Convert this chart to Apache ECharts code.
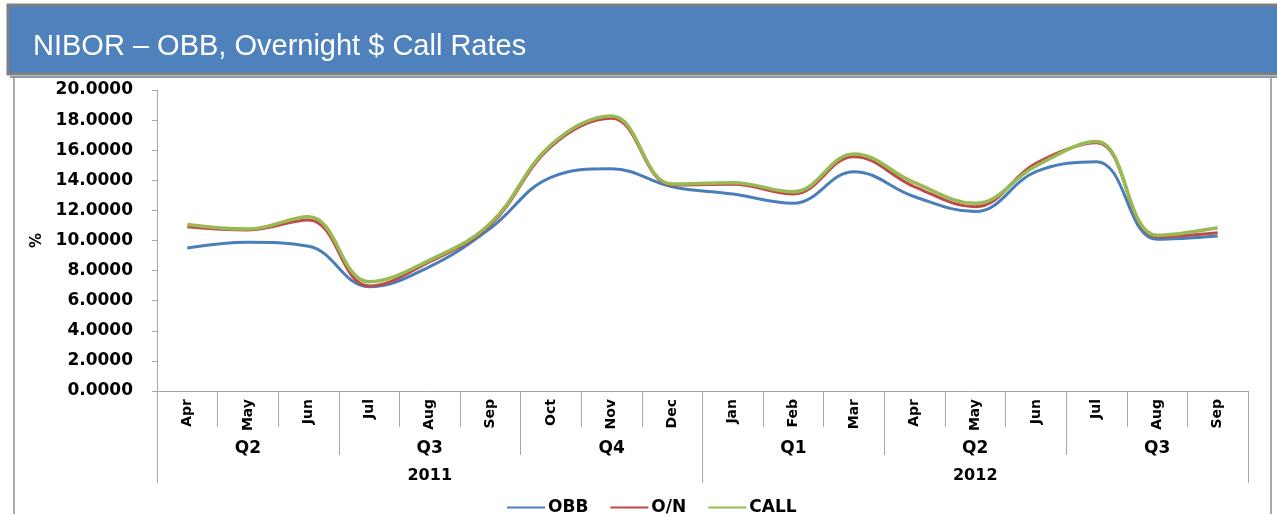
<!DOCTYPE html>
<html>
<head>
<meta charset="utf-8">
<script src="https://cdn.jsdelivr.net/npm/echarts@6/dist/echarts.min.js"></script>
<style>
	html, body { margin: 0; padding: 0; background: #fff; }
	#chart { width: 1277px; height: 514px; }
</style>
</head>
<body>
<div id="chart"></div>
<script>
(function(){
	'use strict';

	// 数据
	var months   = ['Apr','May','Jun','Jul','Aug','Sep','Oct','Nov','Dec','Jan','Feb','Mar','Apr','May','Jun','Jul','Aug','Sep'];
	var quarters = ['Q2','Q3','Q4','Q1','Q2','Q3'];
	var years    = ['2011','2012'];
	var yTicks   = [0, 20, 2];   // min, max, interval

	var obb       = [9.50, 9.88, 9.62, 6.93, 8.26, 10.81, 14.20, 14.77, 13.57, 13.09, 12.47, 14.57, 12.91, 11.92, 14.57, 15.24, 10.08, 10.30];
	var overnight = [10.92, 10.70, 11.36, 6.98, 8.59, 11.03, 16.23, 18.12, 13.69, 13.73, 13.09, 15.57, 13.57, 12.25, 15.13, 16.50, 10.25, 10.52];
	var call      = [11.07, 10.76, 11.58, 7.26, 8.70, 11.14, 16.35, 18.27, 13.75, 13.84, 13.24, 15.75, 13.84, 12.47, 14.95, 16.57, 10.35, 10.85];

	var axisGray = '#a6a6a6',
		boldFont = 'DejaVu Sans',
		myChart = echarts.init(document.getElementById('chart'));

	var option = {
		color: ['#4a7ebb', '#be4b48', '#98b954'],
		animation: false,
		title: {
			text: 'NIBOR – OBB, Overnight $ Call Rates',
			left: 28,
			top: 27,
			textStyle: {
				color: '#fff',
				fontFamily: 'Liberation Sans',
				fontWeight: 'normal',
				fontSize: 29
			}
		},
		graphic: [
			{ type: 'rect', z: -10, shape: { x: 8, y: 5, width: 1275, height: 69 },
			  style: { fill: '#4f81bd', stroke: '#7f7f7f', lineWidth: 3 } },
			{ type: 'line', z: -10, shape: { x1: 10, y1: 77, x2: 1277, y2: 77 },
			  style: { stroke: '#8d99a6', lineWidth: 2 } },
			{ type: 'line', z: -10, shape: { x1: 14, y1: 78, x2: 14, y2: 514 },
			  style: { stroke: '#8c8c8c', lineWidth: 1.5 } },
			{ type: 'line', z: -10, shape: { x1: 1271, y1: 78, x2: 1271, y2: 514 },
			  style: { stroke: '#8c8c8c', lineWidth: 1.5 } }
		],
		legend: {
			data: ['OBB', 'O/N', 'CALL'],
			left: 502,
			top: 494,
			itemWidth: 38,
			itemHeight: 14,
			itemGap: 22,
			icon: 'path://M0,6 L38,6 L38,8 L0,8 Z',
			textStyle: { fontFamily: boldFont, fontWeight: 'bold', fontSize: 17, color: '#000', padding: [0, 0, 0, -2] }
		},
		grid: { left: 157, right: 29, top: 90, bottom: 123 },
		xAxis: [
			{
				type: 'category',
				data: months,
				axisLine: { show: true, lineStyle: { color: axisGray, width: 1 } },
				axisTick: { show: true, interval: 0, alignWithLabel: false, length: 36, lineStyle: { color: axisGray } },
				axisLabel: {
					interval: 0, rotate: 90, margin: 8,
					fontFamily: boldFont, fontWeight: 'bold', fontSize: 14, color: '#000'
				}
			},
			{
				type: 'category',
				position: 'bottom',
				data: quarters,
				axisLine: { show: false },
				axisTick: { show: true, interval: 0, alignWithLabel: false, length: 64, lineStyle: { color: axisGray } },
				axisLabel: {
					interval: 0, margin: 49,
					fontFamily: boldFont, fontWeight: 'bold', fontSize: 17, color: '#000'
				}
			},
			{
				type: 'category',
				position: 'bottom',
				data: years,
				axisLine: { show: false },
				axisTick: { show: true, interval: 0, alignWithLabel: false, length: 92, lineStyle: { color: axisGray } },
				axisLabel: {
					interval: 0, margin: 77,
					fontFamily: boldFont, fontWeight: 'bold', fontSize: 16, color: '#000'
				}
			}
		],
		yAxis: {
			type: 'value',
			min: yTicks[0],
			max: yTicks[1],
			interval: yTicks[2],
			name: '%',
			nameLocation: 'middle',
			nameRotate: 90,
			nameGap: 112,
			nameTextStyle: { fontFamily: boldFont, fontWeight: 'bold', fontSize: 15, color: '#000' },
			splitLine: { show: false },
			axisLine: { show: true, lineStyle: { color: axisGray } },
			axisTick: { show: true, length: 5, lineStyle: { color: axisGray } },
			axisLabel: {
				margin: 24,
				fontFamily: boldFont, fontWeight: 'bold', fontSize: 17, color: '#000',
				formatter: function(v){ return v.toFixed(4); }
			}
		},
		series: [
			{ name: 'OBB',  type: 'line', smooth: 0.4, symbol: 'none', data: obb,
			  lineStyle: { width: 3 } },
			{ name: 'O/N',  type: 'line', smooth: 0.4, symbol: 'none', data: overnight,
			  lineStyle: { width: 3 } },
			{ name: 'CALL', type: 'line', smooth: 0.4, symbol: 'none', data: call,
			  lineStyle: { width: 3.5 } }
		]
	};

	// 绘制图表
	myChart.setOption(option);
}());
</script>
</body>
</html>
